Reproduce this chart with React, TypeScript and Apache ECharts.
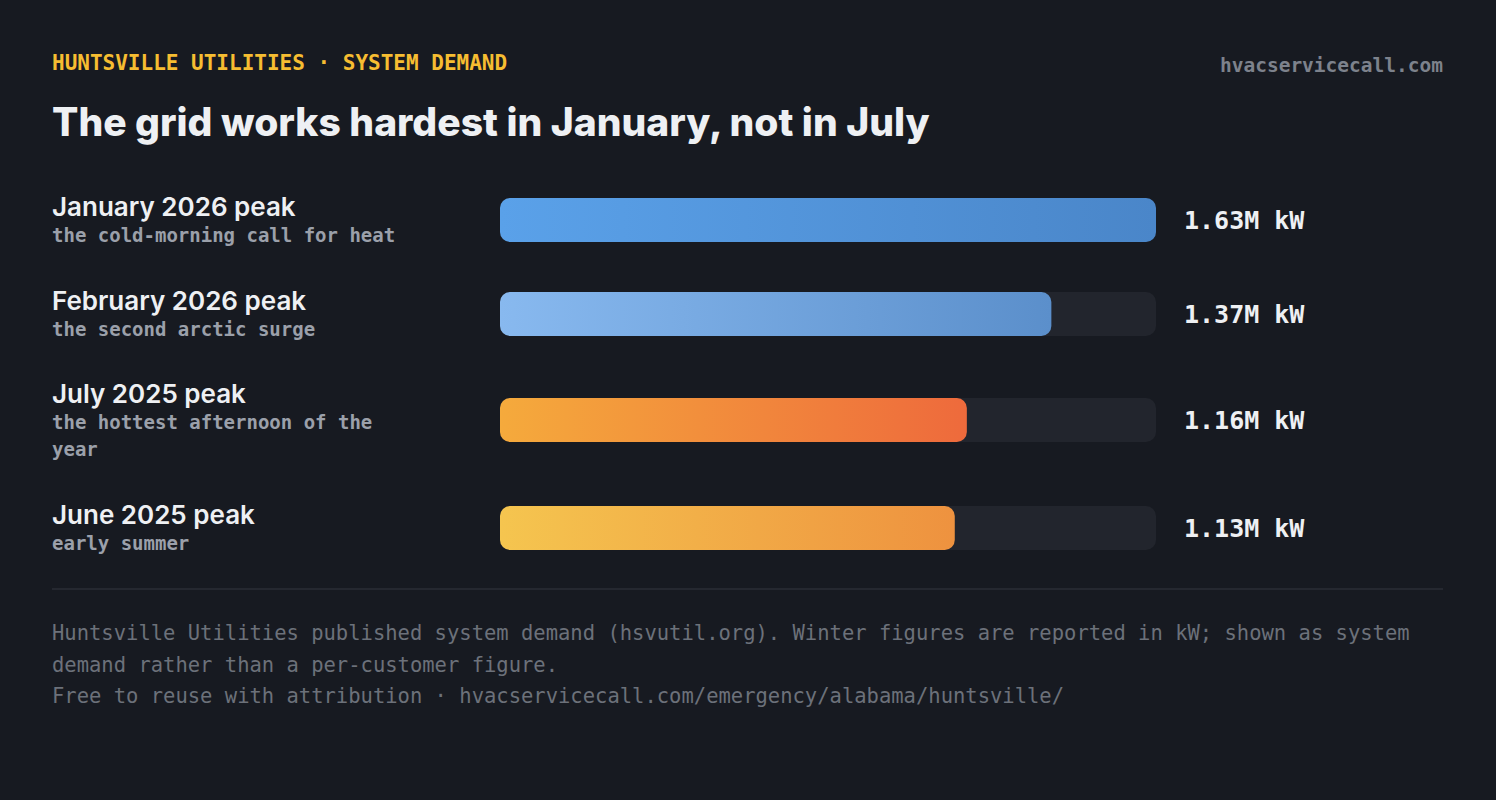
import React, { useEffect, useRef } from "react";
import * as echarts from "echarts";

// peak system demand, millions of kW
const peakNames = ["January 2026 peak", "February 2026 peak", "July 2025 peak", "June 2025 peak"];
const peakNotes = [
  "the cold-morning call for heat",
  "the second arctic surge",
  "the hottest afternoon of the year",
  "early summer",
];
const peakValues = [1.63, 1.37, 1.16, 1.13];
const barColors = [
  ["#5aa1e9", "#4a86c9"],
  ["#88b9ef", "#5b8fcb"],
  ["#f5aa3c", "#ee6a3c"],
  ["#f5c54f", "#ee923f"],
];

const eyebrow = "HUNTSVILLE UTILITIES · SYSTEM DEMAND";
const siteName = "hvacservicecall.com";
const headline = "The grid works hardest in January, not in July";
const footnote =
  "Huntsville Utilities published system demand (hsvutil.org). Winter figures are reported in kW; shown as system demand rather than a per-customer figure.";
const credit = "Free to reuse with attribution · hvacservicecall.com/emergency/alabama/huntsville/";

const SANS = "Inter, 'Noto Sans', sans-serif";
const MONO = "'DejaVu Sans Mono', 'Liberation Mono', monospace";

// vertical centre of each row's bar
const rowCenters = [220, 314, 420, 528];
const BAR_H = 44;
const NOTE_COLS = 30; // characters per line in the note column

// word-wrap a note into lines of at most `cols` characters
const wrapNote = (text: string, cols: number) => {
  const lines: string[] = [];
  let cur = "";
  text.split(" ").forEach((w) => {
    const next = cur ? `${cur} ${w}` : w;
    if (next.length > cols && cur) {
      lines.push(cur);
      cur = w;
    } else {
      cur = next;
    }
  });
  if (cur) lines.push(cur);
  return lines;
};

const App = () => {
  const chartRef = useRef<HTMLDivElement>(null);

  useEffect(() => {
    document.body.style.margin = "0";
    document.body.style.background = "#171a21";
    const chart = echarts.init(chartRef.current, null, { renderer: "svg" });
    const maxVal = Math.max(...peakValues);

    const grids = rowCenters.map((c) => ({
      left: 500,
      width: 656,
      top: c - BAR_H / 2,
      height: BAR_H,
    }));

    const xAxes = peakValues.map((_, i) => ({
      gridIndex: i,
      type: "value",
      min: 0,
      max: maxVal,
      show: false,
    }));

    const yAxes = peakNames.map((name, i) => ({
      gridIndex: i,
      type: "category",
      data: [name],
      axisLine: { show: false },
      axisTick: { show: false },
      axisLabel: {
        margin: 448,
        align: "left",
        formatter: (v: string) =>
          [`{n|${v}}`, ...wrapNote(peakNotes[i], NOTE_COLS).map((l) => `{s|${l}}`)].join("\n"),
        rich: {
          n: {
            fontFamily: SANS,
            fontSize: 26,
            fontWeight: 600,
            color: "#eef0f3",
            lineHeight: 30,
          },
          s: {
            fontFamily: MONO,
            fontSize: 19,
            fontWeight: "bold",
            color: "#9ba0aa",
            lineHeight: 27,
          },
        },
      },
    }));

    const series: any[] = [];
    peakValues.forEach((v, i) => {
      series.push({
        type: "bar",
        xAxisIndex: i,
        yAxisIndex: i,
        data: [maxVal],
        barWidth: BAR_H,
        silent: true,
        itemStyle: { color: "#22252d", borderRadius: 10 },
        label: {
          show: true,
          position: "right",
          distance: 28,
          formatter: () => `${v.toFixed(2)}M kW`,
          fontFamily: MONO,
          fontSize: 25,
          fontWeight: "bold",
          color: "#eef0f3",
        },
      });
      series.push({
        type: "bar",
        xAxisIndex: i,
        yAxisIndex: i,
        data: [v],
        barWidth: BAR_H,
        barGap: "-100%",
        itemStyle: {
          borderRadius: 10,
          color: new echarts.graphic.LinearGradient(0, 0, 1, 0, [
            { offset: 0, color: barColors[i][0] },
            { offset: 1, color: barColors[i][1] },
          ]),
        },
      });
    });

    const option = {
      animation: false,
      backgroundColor: "#171a21",
      grid: grids,
      xAxis: xAxes,
      yAxis: yAxes,
      series,
      graphic: [
        {
          type: "text",
          x: 52,
          y: 63,
          style: {
            text: eyebrow,
            fontFamily: MONO,
            fontSize: 21,
            fontWeight: "bold",
            fill: "#f6bd31",
            align: "left",
            verticalAlign: "middle",
          },
        },
        {
          type: "text",
          x: 1443,
          y: 65,
          style: {
            text: siteName,
            fontFamily: MONO,
            fontSize: 19.5,
            fontWeight: "bold",
            fill: "#7d828c",
            align: "right",
            verticalAlign: "middle",
          },
        },
        {
          type: "text",
          x: 52,
          y: 121,
          style: {
            text: headline,
            fontFamily: SANS,
            fontSize: 39,
            fontWeight: 800,
            fill: "#eef0f3",
            align: "left",
            verticalAlign: "middle",
          },
        },
        {
          type: "line",
          shape: { x1: 52, y1: 589, x2: 1443, y2: 589 },
          style: { stroke: "#2b2e36", lineWidth: 1.5 },
        },
        {
          type: "text",
          x: 52,
          y: 617,
          style: {
            text: footnote,
            width: 1395,
            overflow: "break",
            lineHeight: 32,
            fontFamily: MONO,
            fontSize: 20.5,
            fill: "#6c717a",
            align: "left",
            verticalAlign: "top",
          },
        },
        {
          type: "text",
          x: 52,
          y: 696,
          style: {
            text: credit,
            fontFamily: MONO,
            fontSize: 20.5,
            fill: "#6c717a",
            align: "left",
            verticalAlign: "middle",
          },
        },
      ],
    };

    chart.setOption(option);
    return () => {
      chart.dispose();
    };
  }, []);

  return <div ref={chartRef} style={{ width: "1496px", height: "800px" }} />;
};

export default App;
